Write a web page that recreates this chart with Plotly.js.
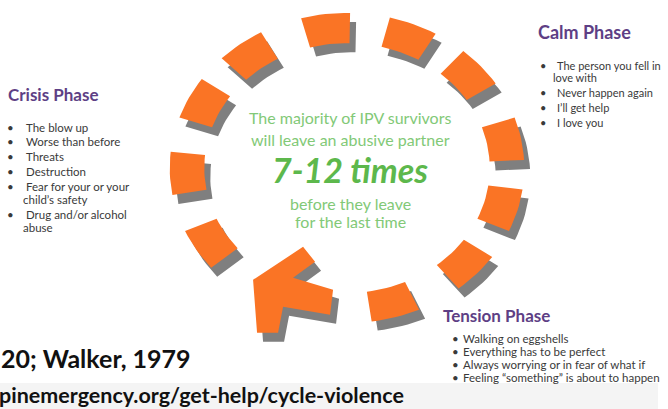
<!DOCTYPE html>
<html><head><meta charset="utf-8">
<script src="https://cdn.plot.ly/plotly-3.0.1.min.js"></script>
<style>html,body{margin:0;padding:0;background:#fff}#chart{width:668px;height:409px}</style>
</head><body><div id="chart"></div>
<script>
// ---- data ----
const segmentAngles = [-97, -68, -41, -11, 16, 43, 74, 148, 178, 207, 233];
const arrowAngle = 112;
const crisisItems = ["The blow up", "Worse than before", "Threats", "Destruction", "Fear for your or your\nchild’s safety", "Drug and/or alcohol\nabuse"];
const calmItems = ["The person you fell in\nlove with", "Never happen again", "I’ll get help", "I love you"];
const tensionItems = ["Walking on eggshells", "Everything has to be perfect", "Always worrying or in fear of what if", "Feeling “something” is about to happen"];
const phaseTitles = ["Crisis Phase", "Calm Phase", "Tension Phase"];
const centerLines = ["The majority of IPV survivors", "will leave an abusive partner", "7-12 times", "before they leave", "for the last time"];
const sourceLines = ["20; Walker, 1979", "pinemergency.org/get-help/cycle-violence"];

// ---- geometry / style ----
const CX = 347, CY = 168, RX = 160, RY = 140;
const HALF = 8, THICK = 0.108;
const SH = [6, 9];
const ORANGE = "#FA7425", GRAY = "#7F7F7F";
const PURPLE = "#5E3F85", TEXT = "#3A3A3A", GREEN = "#82C977", GREEN2 = "#5DB84C";
const FONT = "Lato, 'Open Sans', sans-serif";

function ell(angDeg, r) {
  const a = angDeg * Math.PI / 180;
  return [CX + RX * r * Math.cos(a), CY + RY * r * Math.sin(a)];
}
function sector(ang) {
  const pts = [];
  const n = 8;
  for (let i = 0; i <= n; i++) pts.push(ell(ang - HALF + 2 * HALF * i / n, 1 + THICK));
  for (let i = n; i >= 0; i--) pts.push(ell(ang - HALF + 2 * HALF * i / n, 1 - THICK));
  return pts;
}
const arrowTemplate = [[-34, -18], [16, -51], [28, -36], [6, -20], [46, -8], [43, 17], [-4, 9], [-9, 35], [-30, 35]];
function arrowPoly(ang) {
  const [ax, ay] = ell(ang, 1);
  return arrowTemplate.map(([dx, dy]) => [ax + dx, ay + dy]);
}
function polyTrace(pts, color, off) {
  const xs = pts.map(p => p[0] + off[0]), ys = pts.map(p => p[1] + off[1]);
  xs.push(xs[0]); ys.push(ys[0]);
  return {x: xs, y: ys, type: "scatter", mode: "lines", fill: "toself", fillcolor: color,
          line: {width: 0, color: color}, hoverinfo: "skip", showlegend: false};
}

const traces = [];
const shapesPts = segmentAngles.map(sector).concat([arrowPoly(arrowAngle)]);
shapesPts.forEach(p => { traces.push(polyTrace(p, GRAY, SH)); traces.push(polyTrace(p, ORANGE, [0, 0])); });

const ann = [];
function txt(x, y, text, opts) {
  ann.push(Object.assign({x, y, xref: "x", yref: "y", text, showarrow: false, xanchor: "left", yanchor: "middle",
    font: {family: FONT, size: 10, color: TEXT}}, opts || {}));
}
function bulletList(items, y0, bx, tx, cx, itemGap, contGap, size) {
  let y = y0;
  items.forEach((it, i) => {
    const parts = it.split("\n");
    txt(bx, y, "•", {font: {family: FONT, size: size, color: TEXT}, xanchor: "center"});
    txt(tx, y, parts[0], {font: {family: FONT, size: size, color: TEXT}});
    for (let k = 1; k < parts.length; k++) {
      y += contGap;
      txt(cx, y, parts[k], {font: {family: FONT, size: size, color: TEXT}});
    }
    y += itemGap;
  });
}
// phase titles
txt(6, 94, "<b>" + phaseTitles[0] + "</b>", {font: {family: FONT, size: 17, color: PURPLE}});
txt(536, 32, "<b>" + phaseTitles[1] + "</b>", {font: {family: FONT, size: 18, color: PURPLE}});
txt(441, 315, "<b>" + phaseTitles[2] + "</b>", {font: {family: FONT, size: 17, color: PURPLE}});
bulletList(crisisItems, 127, 10, 24, 21, 14.8, 13, 11.5);
bulletList(calmItems, 65, 543, 555, 551, 15, 12.5, 11);
bulletList(tensionItems, 338, 455, 461, 461, 13.3, 13, 11.5);

// center text
const cy = [117, 139, 169, 203, 221];
centerLines.forEach((t, i) => {
  if (i === 2) txt(350, cy[i], "<b><i>" + t + "</i></b>", {xanchor: "center", font: {family: FONT, size: 34, color: GREEN2}});
  else txt(350, cy[i], t, {xanchor: "center", font: {family: FONT, size: 16, color: GREEN}});
});
// source lines
txt(0, 358, "<b>" + sourceLines[0] + "</b>", {xshift: -1, font: {family: FONT, size: 25, color: "#111"}});
txt(0, 395, "<b>" + sourceLines[1] + "</b>", {xshift: -3, font: {family: FONT, size: 21.5, color: "#111"}});

const layout = {
  width: 668, height: 409, margin: {l: 0, r: 0, t: 0, b: 0},
  paper_bgcolor: "#ffffff", plot_bgcolor: "#ffffff",
  xaxis: {range: [0, 668], visible: false, fixedrange: true},
  yaxis: {range: [409, 0], visible: false, fixedrange: true},
  shapes: [{type: "rect", xref: "x", yref: "y", x0: 0, x1: 658, y0: 383, y1: 409, fillcolor: "#F4F4F4", line: {width: 0}, layer: "below"}],
  annotations: ann, showlegend: false
};
Plotly.newPlot("chart", traces, layout, {staticPlot: true, displayModeBar: false});
</script></body></html>
